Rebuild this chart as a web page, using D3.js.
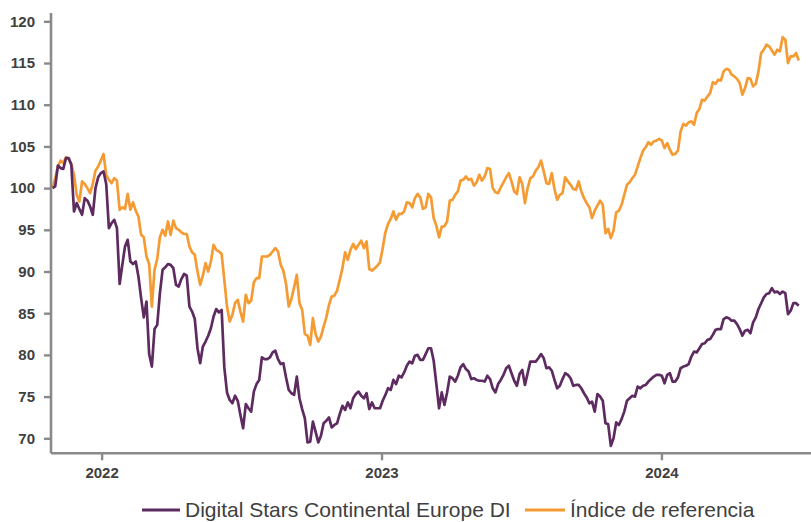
<!DOCTYPE html>
<html>
<head>
<meta charset="utf-8">
<script src="https://cdn.jsdelivr.net/npm/d3@7"></script>
<style>
  html, body { margin: 0; padding: 0; background: #fff; }
  svg { display: block; font-family: "Liberation Sans", Arial, sans-serif; }
</style>
</head>
<body>
<svg id="chart" width="811" height="522"></svg>
<script>
const startDate = "2021-10-29";
const stepHours = 84; // 3.5 days between samples

const seriesNames = ["Digital Stars Continental Europe DI", "Índice de referencia"];

const fundValues = [
100.0,100.2,102.7,102.4,102.3,103.6,103.6,102.8,97.2,98.2,
97.5,96.8,98.8,98.5,97.8,96.8,100.0,101.3,101.8,102.0,
100.5,95.2,95.8,96.2,95.2,88.5,90.8,93.0,93.8,91.2,
90.9,91.2,89.4,86.8,84.5,86.4,80.1,78.6,83.1,83.6,
87.4,90.2,90.5,90.9,90.8,90.4,88.4,88.2,89.1,89.7,
89.5,85.8,85.2,84.3,80.8,79.0,81.0,81.6,82.3,83.2,
84.6,85.5,85.1,85.4,78.5,75.5,74.6,74.2,75.1,74.5,
72.8,71.2,74.1,73.6,73.2,75.6,76.5,77.0,79.7,79.5,
79.5,79.7,80.3,80.5,79.5,78.9,79.0,77.3,75.8,75.4,
75.2,77.4,74.8,73.5,72.4,69.5,69.6,72.0,70.8,69.5,
70.3,71.8,72.1,72.5,71.3,71.6,71.8,72.9,73.9,73.4,
74.3,73.6,74.8,75.3,75.6,75.1,74.8,75.4,73.5,74.3,
73.6,73.6,73.6,74.5,75.2,76.0,75.8,77.0,76.5,77.5,
77.3,77.9,78.7,79.2,79.0,79.9,80.0,79.4,79.4,80.1,
80.8,80.8,79.3,76.5,73.6,75.5,74.0,75.5,77.4,77.2,
76.8,77.5,78.5,78.9,78.3,78.0,77.1,77.2,77.0,76.9,
76.9,76.8,77.5,77.1,76.0,75.5,76.5,77.0,77.6,78.4,
78.7,77.8,76.9,76.3,77.7,78.2,76.4,77.8,79.2,79.2,
79.2,79.6,80.1,79.6,78.4,78.5,78.1,77.0,76.0,76.3,
77.1,77.8,77.6,77.2,76.3,76.4,76.4,76.0,75.4,74.9,
74.2,74.4,73.2,75.3,75.0,74.5,71.8,71.7,69.1,70.0,
71.9,71.6,72.3,73.2,74.5,74.8,75.1,75.0,76.2,76.0,
76.3,76.4,76.8,77.1,77.4,77.6,77.6,77.5,76.6,77.6,
77.8,76.8,76.8,77.3,78.4,78.6,78.7,78.9,79.8,80.4,
80.3,80.8,81.3,81.4,81.8,81.9,82.4,83.0,83.1,83.1,
84.3,84.5,84.4,84.1,84.1,83.7,83.1,82.3,82.9,83.0,
82.6,83.9,84.5,85.5,86.2,86.9,87.3,87.4,88.0,87.5,
87.6,87.3,87.6,87.4,84.9,85.3,86.2,86.2,85.9
];

const benchValues = [
100.0,101.2,102.6,103.3,103.0,103.7,103.5,102.9,101.6,99.2,
98.4,100.8,100.5,100.0,99.4,100.5,102.1,102.6,103.3,104.1,
101.6,101.0,100.6,101.2,100.9,97.4,97.7,97.5,99.3,97.4,
98.3,97.3,96.6,94.4,94.1,91.8,90.9,85.8,90.2,91.5,
94.1,95.0,94.3,96.0,94.4,96.1,95.2,95.0,94.7,94.5,
94.5,93.0,92.3,92.0,90.0,88.4,89.5,91.0,90.0,91.2,
93.2,92.6,92.4,92.1,89.0,85.8,84.0,84.8,86.2,86.6,
85.2,84.0,87.2,86.2,86.5,88.7,89.2,89.2,91.8,91.8,
91.8,92.0,92.4,92.8,92.4,90.8,90.1,88.5,85.8,86.7,
88.1,89.6,86.2,85.4,82.5,82.3,81.2,84.4,82.5,81.6,
82.2,83.4,84.5,86.0,87.0,87.1,87.7,89.0,90.4,92.3,
91.4,92.6,93.3,92.7,93.2,93.7,92.8,93.6,90.3,90.1,
90.4,90.7,91.1,92.8,94.7,95.7,96.3,97.2,96.2,96.9,
96.9,97.2,98.3,98.2,97.7,98.8,99.3,98.9,97.5,97.7,
99.3,98.9,96.4,95.5,94.1,95.4,95.4,96.0,98.5,98.6,
99.2,99.6,100.9,101.0,101.4,101.0,101.1,100.3,100.7,101.6,
100.9,101.4,102.4,102.3,100.0,99.5,99.4,100.1,100.7,101.3,
101.8,100.8,99.6,99.3,101.3,100.5,98.2,100.0,101.2,101.4,
102.1,102.5,103.3,102.0,100.6,100.5,101.8,99.9,98.6,99.2,
99.4,101.3,100.8,100.4,99.9,99.8,100.8,99.6,98.8,98.2,
97.7,96.4,97.3,97.9,98.5,98.0,94.6,95.1,94.0,94.9,
97.1,97.3,98.0,99.2,100.4,100.7,101.2,101.6,102.6,103.6,
104.5,104.9,105.5,105.2,105.6,105.7,105.9,105.7,104.8,105.4,
104.6,104.0,104.1,104.5,106.8,107.7,107.5,107.9,108.0,107.6,
109.0,109.5,110.6,110.5,111.0,111.4,112.7,112.5,113.0,112.9,
114.0,114.3,114.2,113.6,113.4,113.1,112.6,111.2,112.0,113.2,
113.1,112.2,112.5,114.0,116.2,116.6,117.2,117.0,116.5,116.0,
116.6,116.4,118.1,117.8,115.0,115.8,115.8,116.2,115.3
];

const yTicks = [70, 75, 80, 85, 90, 95, 100, 105, 110, 115, 120];
const xTickYears = ["2022-01-01", "2023-01-01", "2024-01-01"];
const xDomain = ["2021-10-27", "2024-07-14"];
const yDomain = [68.2, 121];

// ---- Build ----
const parse = d3.utcParse("%Y-%m-%d");
const t0 = parse(startDate);
const dates = fundValues.map((_, i) => d3.utcHour.offset(t0, i * stepHours));

const svg = d3.select("#chart");
const colors = ["#5e2b61", "#f59b33"];
const axisColor = "#8a8a8a";
const textColor = "#404040";

const x = d3.scaleUtc().domain(xDomain.map(parse)).range([51, 811]);
const y = d3.scaleLinear().domain(yDomain).range([453.3, 13]);

// Lines (benchmark first, fund on top)
const line = d3.line().x((d, i) => x(dates[i])).y(d => y(d));
[[benchValues, colors[1]], [fundValues, colors[0]]].forEach(([vals, c]) => {
  svg.append("path")
    .datum(vals)
    .attr("fill", "none")
    .attr("stroke", c)
    .attr("stroke-width", 2.7)
    .attr("stroke-linejoin", "round")
    .attr("d", line);
});

// Y axis
const yAxis = svg.append("g")
  .attr("transform", "translate(51,0)")
  .call(d3.axisLeft(y).tickValues(yTicks).tickSize(7).tickPadding(9).tickFormat(d3.format("d")));
yAxis.select(".domain").attr("stroke", axisColor).attr("stroke-width", 2.6)
  .attr("d", `M0,${y(yDomain[1])}V${y(yDomain[0])}`);
yAxis.selectAll(".tick line").attr("stroke", axisColor).attr("stroke-width", 2.4);
yAxis.selectAll(".tick text")
  .attr("fill", textColor).attr("font-size", 15).attr("font-weight", "bold")
  .attr("font-family", "'Liberation Sans', Arial, sans-serif");

// X axis
const xAxis = svg.append("g")
  .attr("transform", `translate(0,${y(yDomain[0])})`)
  .call(d3.axisBottom(x).tickValues(xTickYears.map(parse)).tickSize(7).tickPadding(7)
    .tickFormat(d3.utcFormat("%Y")));
xAxis.select(".domain").attr("stroke", axisColor).attr("stroke-width", 2.6)
  .attr("d", `M${x.range()[0]},0H${x.range()[1]}`);
xAxis.selectAll(".tick line").attr("stroke", axisColor).attr("stroke-width", 2.4);
xAxis.selectAll(".tick text")
  .attr("fill", textColor).attr("font-size", 15).attr("font-weight", "bold")
  .attr("font-family", "'Liberation Sans', Arial, sans-serif");

// Legend
const legend = svg.append("g").attr("transform", "translate(0,510)");
const legendItems = [
  { x: 142, w: 38, name: seriesNames[0], color: colors[0] },
  { x: 525, w: 40, name: seriesNames[1], color: colors[1] }
];
legendItems.forEach(it => {
  legend.append("line")
    .attr("x1", it.x).attr("x2", it.x + it.w).attr("y1", 0).attr("y2", 0)
    .attr("stroke", it.color).attr("stroke-width", 3);
  legend.append("text")
    .attr("x", it.x + it.w + 5).attr("y", 7)
    .attr("fill", textColor).attr("font-size", 21)
    .text(it.name);
});
</script>
</body>
</html>
